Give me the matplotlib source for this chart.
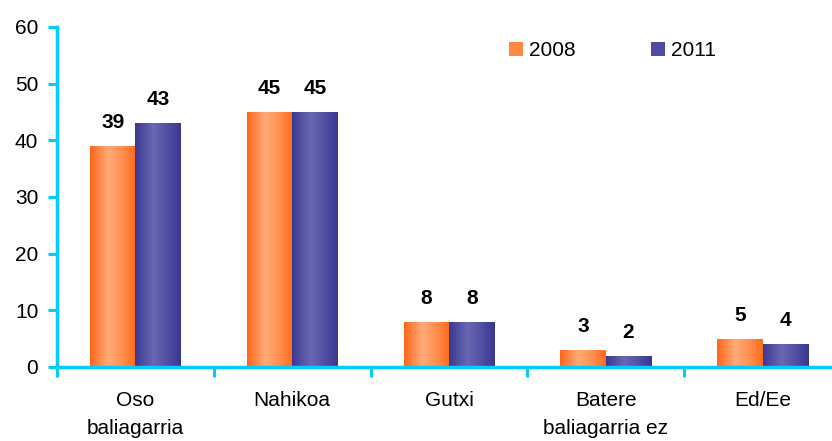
import numpy as np
import matplotlib.pyplot as plt
from matplotlib.colors import LinearSegmentedColormap
from matplotlib.patches import Patch

categories = ["Oso\nbaliagarria", "Nahikoa", "Gutxi", "Batere\nbaliagarria ez", "Ed/Ee"]
series_names = ["2008", "2011"]
values_2008 = [39, 45, 8, 3, 5]
values_2011 = [43, 45, 8, 2, 4]

plt.rcParams['font.family'] = ['Liberation Sans', 'DejaVu Sans']

axis_color = '#00CCFF'
orange_cmap = LinearSegmentedColormap.from_list(
    'org', [(0, '#FF6619'), (0.4, '#FFAA78'), (0.7, '#FF9050'), (1, '#FF6A1A')])
blue_cmap = LinearSegmentedColormap.from_list(
    'blu', [(0, '#3A3893'), (0.4, '#6A68B2'), (0.7, '#5250A4'), (1, '#38368F')])


def gradient_bars(ax, bars, cmap):
    """Paint each bar with a horizontal gradient, clipped to the bar."""
    grad = np.linspace(0, 1, 256).reshape(1, -1)
    for bar in bars:
        x, y = bar.get_x(), bar.get_y()
        w, h = bar.get_width(), bar.get_height()
        im = ax.imshow(grad, cmap=cmap, aspect='auto',
                       extent=[x, x + w, y, y + h], zorder=2)
        im.set_clip_path(bar)


fig = plt.figure(figsize=(8.32, 4.41), dpi=100)
# axis runs a little past the right edge like the original
ax = fig.add_axes([57 / 832, 74 / 441, 784 / 832, 340 / 441])

x = np.arange(len(categories))
w = 0.29
bars1 = ax.bar(x - w / 2, values_2008, w, color='none', zorder=2)
bars2 = ax.bar(x + w / 2, values_2011, w, color='none', zorder=2)
gradient_bars(ax, bars1, orange_cmap)
gradient_bars(ax, bars2, blue_cmap)

for bars, vals in [(bars1, values_2008), (bars2, values_2011)]:
    for b, v in zip(bars, vals):
        ax.annotate(str(v), (b.get_x() + b.get_width() / 2, v),
                    xytext=(0, 10), textcoords='offset points',
                    ha='center', va='bottom', fontsize=15, fontweight='bold')

ax.set_xlim(-0.5, len(categories) - 0.5)
ax.set_ylim(0, 60)
ax.set_yticks(range(0, 61, 10))
ax.set_xticks(x)
ax.set_xticklabels(categories, fontsize=15, linespacing=1.6)
ax.set_xticks(np.arange(-0.5, len(categories), 1), minor=True)
ax.tick_params(axis='x', which='major', length=0, pad=17)
ax.tick_params(axis='x', which='minor', length=7, width=2.2, color=axis_color)
ax.tick_params(axis='y', length=6.5, width=2.2, color=axis_color, labelsize=15, pad=7)

for side in ['top', 'right']:
    ax.spines[side].set_visible(False)
for side in ['left', 'bottom']:
    ax.spines[side].set_color(axis_color)
    ax.spines[side].set_linewidth(2.5)
ax.spines['bottom'].set_zorder(3)

handles = [Patch(facecolor='#FF8844'), Patch(facecolor='#4E4CA2')]
fig.legend(handles, series_names, loc='center left',
           bbox_to_anchor=(509 / 832, 1 - 51 / 441), bbox_transform=fig.transFigure,
           ncol=2, frameon=False, fontsize=15, handlelength=0.67, handleheight=0.67,
           handletextpad=0.3, columnspacing=3.6, borderpad=0, borderaxespad=0)

plt.savefig('out.png', dpi=100)
